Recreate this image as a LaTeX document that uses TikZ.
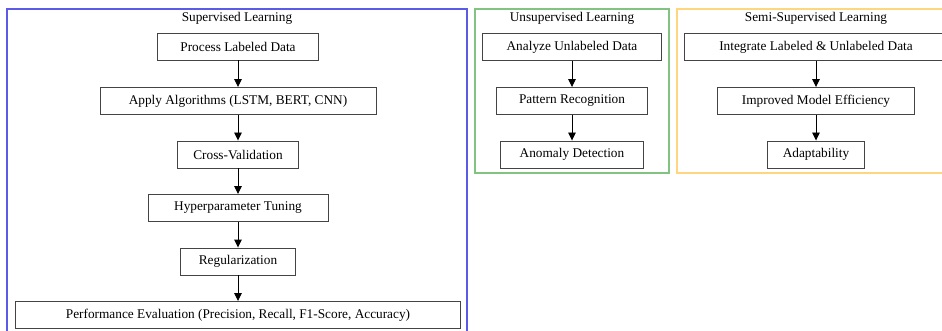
\documentclass[tikz,border=0pt]{standalone}
\usepackage{fontspec}
\setmainfont{Liberation Serif}
\usetikzlibrary{arrows.meta}
\definecolor{supblue}{HTML}{5B5BE6}
\definecolor{unsgreen}{HTML}{82C382}
\definecolor{semorange}{HTML}{FFD580}
\definecolor{boxline}{HTML}{444444}
\tikzset{
  stepbox/.style={draw=boxline, line width=0.9pt, fill=white, inner sep=0pt,
    minimum height=27pt, font=\fontsize{13.3}{16}\selectfont},
  clusterbox/.style={line width=1.4pt, inner sep=0pt},
  clustertitle/.style={inner sep=0pt, font=\fontsize{13.3}{16}\selectfont},
  flow/.style={line width=0.9pt, draw=black, -{Triangle[length=8pt,width=7.5pt]}}
}
\begin{document}
\begin{tikzpicture}[x=1pt,y=-1pt]
\useasboundingbox (0,0) rectangle (942,331);
\clip (0,0) rectangle (942,331);
% clusters
\node[clusterbox, draw=supblue, minimum width=460pt, minimum height=336pt] (supc) at (237,177) {};
\node[clusterbox, draw=unsgreen, minimum width=194pt, minimum height=164pt] (unsc) at (572,91) {};
\node[clusterbox, draw=semorange, minimum width=278pt, minimum height=164pt] (semc) at (816,91) {};
% titles
\node[clustertitle] (supt) at (237,18.5) {Supervised Learning};
\node[clustertitle] (unst) at (572,18.5) {Unsupervised Learning};
\node[clustertitle] (semt) at (816,18.5) {Semi-Supervised Learning};
% supervised
\node[stepbox, minimum width=161pt] (p1) at (238,46.5) {Process Labeled Data};
\node[stepbox, minimum width=276pt] (p2) at (238,101) {Apply Algorithms (LSTM, BERT, CNN)};
\node[stepbox, minimum width=121pt] (p3) at (238,154.5) {Cross-Validation};
\node[stepbox, minimum width=180pt] (p4) at (238,208) {Hyperparameter Tuning};
\node[stepbox, minimum width=115pt] (p5) at (238,261.5) {Regularization};
\node[stepbox, minimum width=445pt] (p6) at (238,315) {Performance Evaluation (Precision, Recall, F1-Score, Accuracy)};
% unsupervised
\node[stepbox, minimum width=179pt] (a1) at (572,47) {Analyze Unlabeled Data};
\node[stepbox, minimum width=151pt] (a2) at (572,101) {Pattern Recognition};
\node[stepbox, minimum width=143pt] (a3) at (572,154.5) {Anomaly Detection};
% semi-supervised
\node[stepbox, minimum width=264pt] (s1) at (816,47) {Integrate Labeled \& Unlabeled Data};
\node[stepbox, minimum width=197pt] (s2) at (816,101) {Improved Model Efficiency};
\node[stepbox, minimum width=97pt] (s3) at (816,154.5) {Adaptability};
% arrows
\draw[flow] (p1) -- (p2);
\draw[flow] (p2) -- (p3);
\draw[flow] (p3) -- (p4);
\draw[flow] (p4) -- (p5);
\draw[flow] (p5) -- (p6);
\draw[flow] (a1) -- (a2);
\draw[flow] (a2) -- (a3);
\draw[flow] (s1) -- (s2);
\draw[flow] (s2) -- (s3);
\end{tikzpicture}
\end{document}
